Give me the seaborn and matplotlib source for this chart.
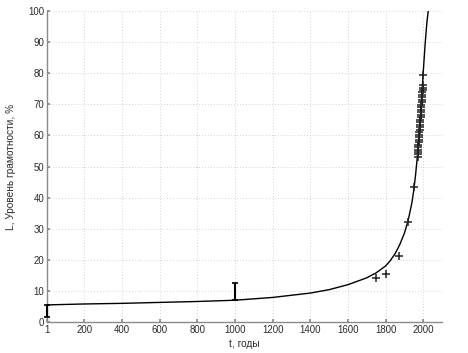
import matplotlib
matplotlib.use("Agg")
import matplotlib.pyplot as plt
import seaborn as sns
import pandas as pd
import numpy as np

# Model curve
curve_t = [1, 200, 400, 600, 800, 1000, 1200, 1400, 1500, 1600, 1700, 1750, 1800,
           1825, 1850, 1875, 1900, 1920, 1940, 1950, 1960, 1970, 1980, 1990, 2000,
           2010, 2020, 2027]
curve_L = [5.5, 5.8, 6.0, 6.3, 6.6, 7.0, 7.9, 9.3, 10.4, 12.0, 14.2, 15.8, 18.0,
           19.7, 21.9, 24.8, 28.5, 32.6, 38.3, 42.3, 47.5, 53.8, 61.0, 70.0, 80.0,
           89.0, 96.5, 100.0]

# Observed data (+ markers)
obs_t = [1750, 1800, 1870, 1920, 1950,
         1970, 1971, 1972, 1973, 1974, 1975, 1976, 1977, 1978, 1979,
         1980, 1981, 1982, 1983, 1984, 1985, 1986, 1987, 1988, 1989,
         1990, 1991, 1992, 1993, 1994, 1995, 1996, 1997, 1998, 1999, 2000]
obs_L = [14.2, 15.3, 21.2, 32.2, 43.4,
         53.0, 53.9, 54.7, 55.4, 56.3, 57.0, 57.9, 58.6, 59.5, 60.2,
         61.0, 61.9, 62.6, 63.5, 64.2, 65.0, 65.9, 66.6, 67.5, 68.2,
         69.0, 69.9, 70.6, 71.5, 72.2, 73.0, 73.9, 74.6, 75.4, 76.2, 79.4]

# Interval estimates (error bars)
err_t = [1, 1000]
err_lo = [1.6, 7.0]
err_hi = [5.5, 12.6]

x_ticks = [1, 200, 400, 600, 800, 1000, 1200, 1400, 1600, 1800, 2000]
y_ticks = [0, 10, 20, 30, 40, 50, 60, 70, 80, 90, 100]

sns.set_theme(style="white")
plt.rcParams['font.family'] = ['Liberation Sans', 'DejaVu Sans']

fig = plt.figure(figsize=(4.68, 3.53), dpi=100)
ax = fig.add_axes([0.1004, 0.0878, 0.8440, 0.8810])

df_curve = pd.DataFrame({"t": curve_t, "L": curve_L})
df_obs = pd.DataFrame({"t": obs_t, "L": obs_L})

sns.lineplot(data=df_curve, x="t", y="L", ax=ax, color="black", lw=1.0, sort=False, zorder=3)
sns.scatterplot(data=df_obs, x="t", y="L", ax=ax, marker="+", color="#222222", s=36,
                linewidth=1.1, zorder=4)

mid = [(a + b) / 2 for a, b in zip(err_lo, err_hi)]
half = [(b - a) / 2 for a, b in zip(err_lo, err_hi)]
eb = ax.errorbar(err_t, mid, yerr=half, fmt="none", ecolor="black", elinewidth=1.5,
                 capsize=2.2, capthick=1.2, zorder=5)
for art in eb.lines[1] + eb.lines[2]:
    art.set_clip_on(False)
for art in eb.get_children():
    art.set_clip_on(False)

ax.set_xlim(1, 2100)
ax.set_ylim(0, 100)
ax.set_xticks(x_ticks)
ax.set_yticks(y_ticks)
ax.grid(True, color="#c4c4c4", linestyle=(0, (1, 2.5)), linewidth=0.6)
for s in ["top", "right"]:
    ax.spines[s].set_visible(False)
for s in ["left", "bottom"]:
    ax.spines[s].set_color("#8a8a8a")
    ax.spines[s].set_linewidth(1.0)
ax.tick_params(direction="in", length=2, color="#8a8a8a", labelsize=6.9,
               labelcolor="#2a2a2a", pad=2, left=True, bottom=True)
ax.set_xlabel("t, годы", fontsize=7.3, color="#2a2a2a", labelpad=3)
ax.set_ylabel("L, Уровень грамотности, %", fontsize=7.3, color="#2a2a2a", labelpad=9)

fig.savefig("out.png", dpi=100)
